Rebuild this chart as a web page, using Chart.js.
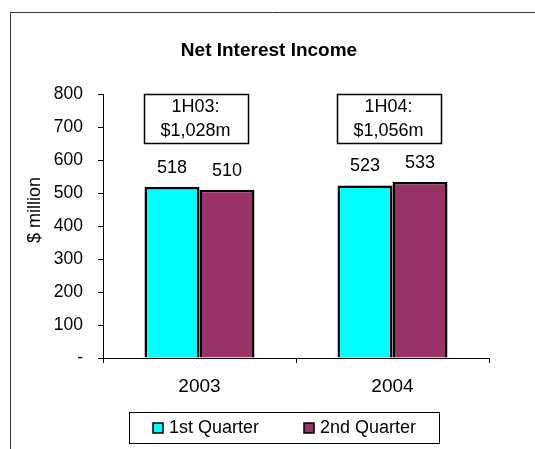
<!DOCTYPE html>
<html>
<head>
<meta charset="utf-8">
<style>
  html, body { margin: 0; padding: 0; background: #fff; }
  #wrap { width: 535px; height: 449px; }
</style>
<script src="https://cdn.jsdelivr.net/npm/chart.js@4.4.1/dist/chart.umd.min.js"></script>
</head>
<body>
<div id="wrap"><canvas id="nii" width="535" height="449"></canvas></div>
<script>
// --- DATA ---
const categories = ['2003', '2004'];
const seriesNames = ['1st Quarter', '2nd Quarter'];
const firstQuarter = [518, 523];
const secondQuarter = [510, 533];
const halfYearNotes = [['1H03:', '$1,028m'], ['1H04:', '$1,056m']];
const yMax = 800;
const yStep = 100;

const FONT = "'Liberation Sans', Arial, sans-serif";

// frame, titles, value labels, note boxes and legend box
const decorations = {
    id: 'decorations',
    beforeDraw(chart) {
        const ctx = chart.ctx;
        ctx.save();
        ctx.strokeStyle = '#333';
        ctx.lineWidth = 1;
        ctx.beginPath();
        ctx.moveTo(10.5, 449);
        ctx.lineTo(10.5, 12.5);
        ctx.lineTo(535, 12.5);
        ctx.stroke();
        ctx.restore();
    },
    afterDraw(chart) {
        const ctx = chart.ctx;
        const x = chart.scales.x, y = chart.scales.y;
        ctx.save();
        ctx.fillStyle = '#000';

        // title
        ctx.font = 'bold 19px ' + FONT;
        ctx.textAlign = 'center';
        ctx.textBaseline = 'middle';
        ctx.fillText('Net Interest Income', 269, 51);

        // y axis title
        ctx.save();
        ctx.translate(35, 210);
        ctx.rotate(-Math.PI / 2);
        ctx.font = '18px ' + FONT;
        ctx.fillText('$ million', 0, 0);
        ctx.restore();

        // value labels above bars
        ctx.font = '18px ' + FONT;
        ctx.textBaseline = 'middle';
        chart.data.datasets.forEach((ds, di) => {
            chart.getDatasetMeta(di).data.forEach((bar, i) => {
                ctx.fillText(String(ds.data[i]), bar.x, bar.y - 19);
            });
        });

        // half-year note boxes
        halfYearNotes.forEach((lines, i) => {
            const cx = x.getPixelForValue(i) - 4;
            const top = y.getPixelForValue(yMax);
            ctx.fillStyle = '#fff';
            ctx.fillRect(cx - 52, top, 104, 49);
            ctx.strokeStyle = '#000';
            ctx.lineWidth = 1.5;
            ctx.strokeRect(Math.round(cx - 52) + 0.5, Math.round(top) + 0.5, 104, 49);
            ctx.fillStyle = '#000';
            ctx.fillText(lines[0], cx, top + 13);
            ctx.fillText(lines[1], cx, top + 37);
        });

        // legend
        ctx.strokeStyle = '#000';
        ctx.lineWidth = 1;
        ctx.strokeRect(129.5, 412.5, 310, 31);
        const itemX = [153, 304];
        ctx.textAlign = 'left';
        chart.data.datasets.forEach((ds, di) => {
            const lx = itemX[di];
            ctx.fillStyle = ds.backgroundColor;
            ctx.fillRect(lx, 423, 10, 10);
            ctx.strokeStyle = '#000';
            ctx.lineWidth = 1.5;
            ctx.strokeRect(lx, 423, 10, 10);
            ctx.fillStyle = '#000';
            ctx.fillText(ds.label, lx + 16, 428);
        });
        ctx.restore();
    }
};

const ctx = document.getElementById('nii').getContext('2d');
new Chart(ctx, {
    type: 'bar',
    data: {
        labels: categories,
        datasets: [
            { label: seriesNames[0], data: firstQuarter, backgroundColor: '#00ffff', borderColor: '#000', borderWidth: 2.5, borderSkipped: 'bottom' },
            { label: seriesNames[1], data: secondQuarter, backgroundColor: '#993366', borderColor: '#000', borderWidth: 2.5, borderSkipped: 'bottom' }
        ]
    },
    options: {
        responsive: false,
        animation: false,
        layout: { padding: { top: 94, right: 46, bottom: 0, left: 0 } },
        datasets: { bar: { categoryPercentage: 0.57, barPercentage: 1.0 } },
        plugins: { legend: { display: false }, title: { display: false }, tooltip: { enabled: false } },
        scales: {
            x: {
                offset: true,
                grid: { drawOnChartArea: false, drawTicks: true, tickLength: 5, color: '#000', offset: true },
                border: { display: true, color: '#000', width: 1 },
                ticks: { color: '#000', font: { family: FONT, size: 19 }, padding: 12, maxRotation: 0 },
                afterFit: s => { s.height = 91; }
            },
            y: {
                min: 0,
                max: yMax,
                grid: { drawOnChartArea: false, drawTicks: true, tickLength: 5, color: '#000' },
                border: { display: true, color: '#000', width: 1 },
                ticks: {
                    stepSize: yStep,
                    color: '#000',
                    font: { family: FONT, size: 17.5 },
                    padding: 15,
                    callback: v => v === 0 ? '-' : v
                },
                afterFit: s => { s.width = 103; }
            }
        }
    },
    plugins: [decorations]
});
</script>
</body>
</html>
